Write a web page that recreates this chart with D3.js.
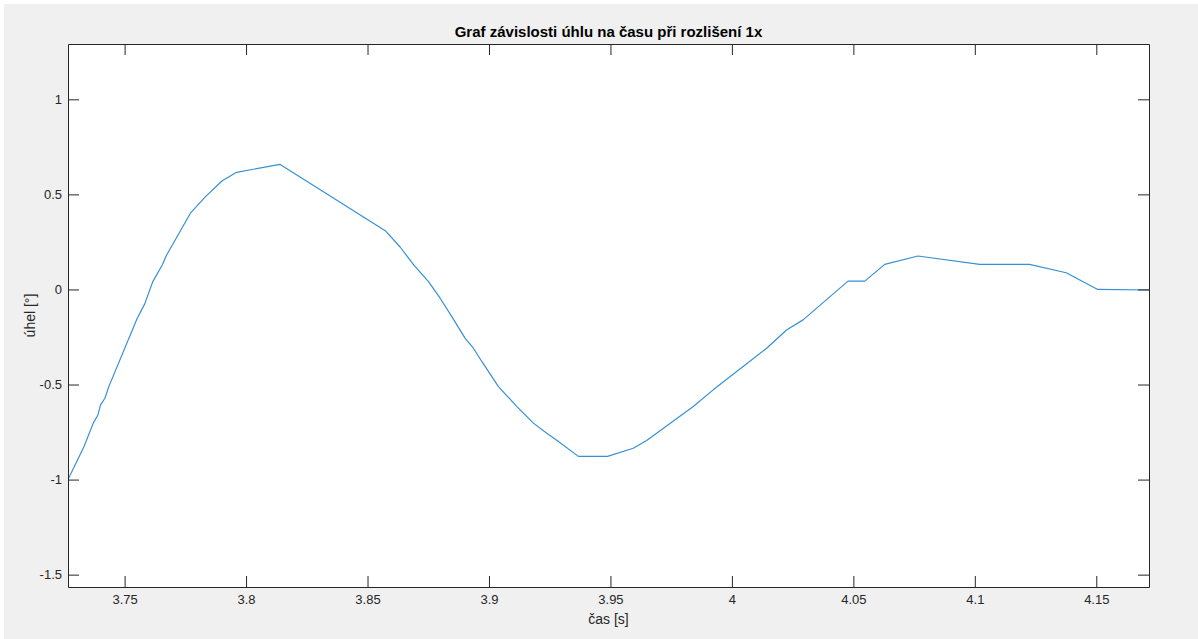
<!DOCTYPE html>
<html>
<head>
<meta charset="utf-8">
<script src="https://cdn.jsdelivr.net/npm/d3@7/dist/d3.min.js"></script>
<style>
  html, body { margin: 0; padding: 0; background: #ffffff; }
  svg { display: block; }
  text { font-family: "Liberation Sans", Arial, Helvetica, sans-serif; }
</style>
</head>
<body>
<svg id="chart" width="1198" height="639"></svg>
<script>
// ---- data ----
const titleText = "Graf závislosti úhlu na času při rozlišení 1x";
const xLabelText = "čas [s]";
const yLabelText = "úhel [°]";

const time = [
  3.7267, 3.7333, 3.7371, 3.7390, 3.7401, 3.7419, 3.7435, 3.7552, 3.7583, 3.7616,
  3.7655, 3.7673, 3.7771, 3.7833, 3.7902, 3.7961, 3.8139, 3.8573, 3.8635, 3.8690,
  3.8751, 3.8799, 3.8847, 3.8902, 3.8936, 3.8971, 3.9039, 3.9115, 3.9183, 3.9238,
  3.9286, 3.9368, 3.9488, 3.9594, 3.9649, 3.9841, 3.9923, 4.0143, 4.0225, 4.0293,
  4.0478, 4.0547, 4.0629, 4.0766, 4.1020, 4.1225, 4.1376, 4.1506, 4.1717
];
const angle = [
  -1.000, -0.826, -0.703, -0.660, -0.607, -0.572, -0.511, -0.151, -0.076, 0.041,
  0.129, 0.181, 0.401, 0.488, 0.572, 0.616, 0.658, 0.309, 0.222, 0.129,
  0.041, -0.046, -0.143, -0.257, -0.309, -0.380, -0.511, -0.616, -0.703, -0.756,
  -0.800, -0.878, -0.878, -0.835, -0.795, -0.616, -0.528, -0.309, -0.213, -0.160,
  0.044, 0.044, 0.132, 0.176, 0.132, 0.132, 0.088, 0.000, -0.003
];

const xTicks = [3.75, 3.8, 3.85, 3.9, 3.95, 4, 4.05, 4.1, 4.15];
const xTickLabels = ["3.75", "3.8", "3.85", "3.9", "3.95", "4", "4.05", "4.1", "4.15"];
const yTicks = [-1.5, -1, -0.5, 0, 0.5, 1];
const yTickLabels = ["-1.5", "-1", "-0.5", "0", "0.5", "1"];

const xDomain = [3.7267, 4.1717];
const yDomain = [-1.565, 1.291];

// ---- layout ----
const W = 1198, H = 639;
const plot = { left: 68, top: 44, right: 1149, bottom: 587 };
const axisColor = "#262626";
const tickLen = 11;

const svg = d3.select("#chart");

// figure background
svg.append("rect").attr("x", 0).attr("y", 0).attr("width", W).attr("height", H).attr("fill", "#ffffff");
svg.append("rect").attr("x", 4).attr("y", 4).attr("width", W - 4).attr("height", H - 4).attr("fill", "#f0f0f0");

// axes background
svg.append("rect")
  .attr("x", plot.left).attr("y", plot.top)
  .attr("width", plot.right - plot.left).attr("height", plot.bottom - plot.top)
  .attr("fill", "#ffffff");

const x = d3.scaleLinear().domain(xDomain).range([plot.left, plot.right]);
const y = d3.scaleLinear().domain(yDomain).range([plot.bottom, plot.top]);

// clip
svg.append("clipPath").attr("id", "clip")
  .append("rect")
  .attr("x", plot.left).attr("y", plot.top)
  .attr("width", plot.right - plot.left).attr("height", plot.bottom - plot.top);

// data line
const data = time.map((t, i) => [t, angle[i]]);
svg.append("path")
  .datum(data)
  .attr("clip-path", "url(#clip)")
  .attr("fill", "none")
  .attr("stroke", "#3790d4")
  .attr("stroke-width", 1.2)
  .attr("stroke-linejoin", "round")
  .attr("d", d3.line().x(d => x(d[0])).y(d => y(d[1])));

// axes (ticks inside, MATLAB box style)
const fmtX = (d) => xTickLabels[xTicks.indexOf(d)];
const fmtY = (d) => yTickLabels[yTicks.indexOf(d)];

const gBottom = svg.append("g").attr("transform", `translate(0,${plot.bottom})`)
  .call(d3.axisBottom(x).tickValues(xTicks).tickFormat(fmtX).tickSizeInner(-tickLen).tickSizeOuter(0).tickPadding(8));
const gTop = svg.append("g").attr("transform", `translate(0,${plot.top})`)
  .call(d3.axisTop(x).tickValues(xTicks).tickFormat("").tickSizeInner(-tickLen).tickSizeOuter(0));
const gLeft = svg.append("g").attr("transform", `translate(${plot.left},0)`)
  .call(d3.axisLeft(y).tickValues(yTicks).tickFormat(fmtY).tickSizeInner(-tickLen).tickSizeOuter(0).tickPadding(6));
const gRight = svg.append("g").attr("transform", `translate(${plot.right},0)`)
  .call(d3.axisRight(y).tickValues(yTicks).tickFormat("").tickSizeInner(-tickLen).tickSizeOuter(0));

[gBottom, gTop, gLeft, gRight].forEach(g => {
  g.select(".domain").attr("stroke", axisColor).attr("stroke-width", 1);
  g.selectAll(".tick line").attr("stroke", axisColor).attr("stroke-width", 1);
  g.selectAll(".tick text")
    .attr("fill", axisColor)
    .style("font-size", "13px")
    .style("font-family", '"Liberation Sans", Arial, sans-serif');
});

// title
svg.append("text")
  .attr("x", (plot.left + plot.right) / 2)
  .attr("y", 36.5)
  .attr("text-anchor", "middle")
  .attr("fill", "#000000")
  .style("font-size", "15px")
  .style("font-weight", "bold")
  .text(titleText);

// x label
svg.append("text")
  .attr("x", (plot.left + plot.right) / 2)
  .attr("y", 624)
  .attr("text-anchor", "middle")
  .attr("fill", axisColor)
  .style("font-size", "14px")
  .text(xLabelText);

// y label
svg.append("text")
  .attr("transform", `translate(35,${(plot.top + plot.bottom) / 2}) rotate(-90)`)
  .attr("text-anchor", "middle")
  .attr("fill", axisColor)
  .style("font-size", "14px")
  .text(yLabelText);
</script>
</body>
</html>
